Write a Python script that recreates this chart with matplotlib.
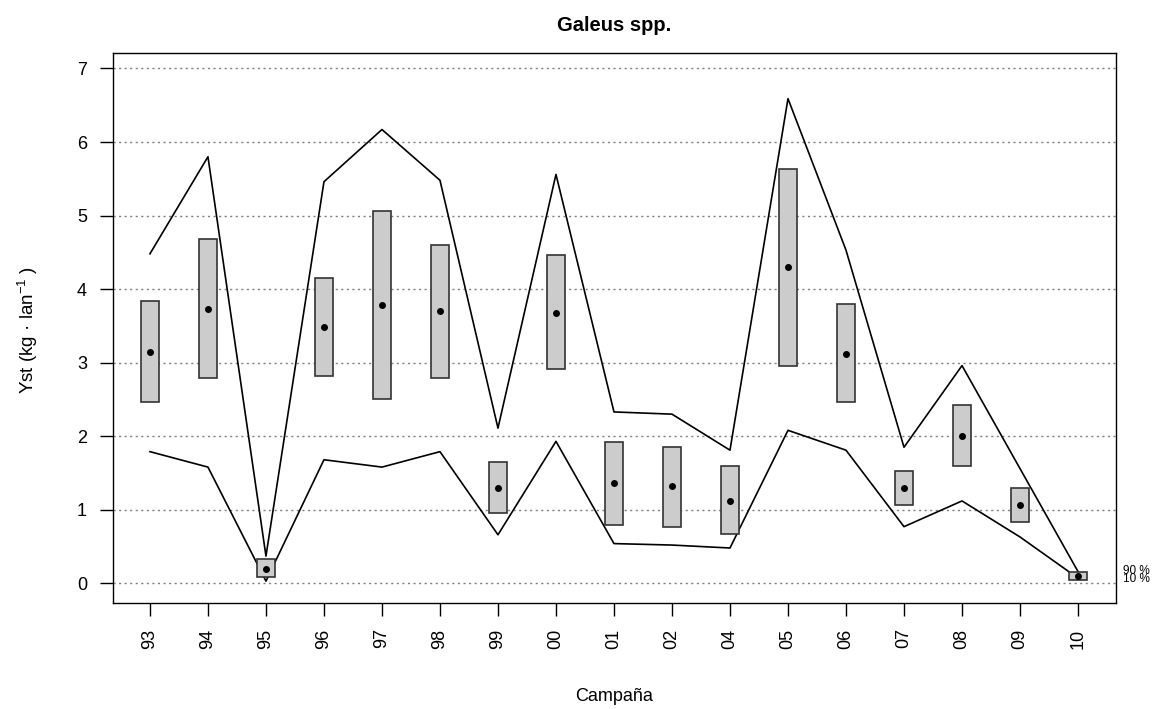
import numpy as np
import matplotlib
matplotlib.use("Agg")
import matplotlib.pyplot as plt

plt.rcParams['font.family'] = ['Liberation Sans', 'DejaVu Sans']
plt.rcParams['mathtext.fontset'] = 'custom'
plt.rcParams['mathtext.rm'] = 'Liberation Sans'
plt.rcParams['mathtext.it'] = 'Liberation Sans'

years = ['93', '94', '95', '96', '97', '98', '99', '00', '01', '02',
         '04', '05', '06', '07', '08', '09', '10']
mean = [3.15, 3.73, 0.20, 3.49, 3.78, 3.70, 1.30, 3.68, 1.36, 1.32,
        1.12, 4.30, 3.12, 1.30, 2.00, 1.06, 0.10]
box_low = [2.46, 2.79, 0.09, 2.82, 2.50, 2.79, 0.96, 2.92, 0.79, 0.76,
           0.67, 2.96, 2.47, 1.07, 1.59, 0.83, 0.05]
box_high = [3.84, 4.68, 0.33, 4.15, 5.06, 4.60, 1.65, 4.46, 1.92, 1.86,
            1.59, 5.64, 3.80, 1.53, 2.42, 1.30, 0.15]
p90 = [4.48, 5.80, 0.37, 5.46, 6.17, 5.48, 2.11, 5.56, 2.33, 2.30,
       1.81, 6.59, 4.53, 1.85, 2.96, 1.56, 0.16]
p10 = [1.79, 1.58, 0.03, 1.68, 1.58, 1.79, 0.66, 1.93, 0.54, 0.52,
       0.48, 2.08, 1.81, 0.77, 1.12, 0.63, 0.07]

x = np.arange(1, len(years) + 1)
low = np.array(box_low)
high = np.array(box_high)

fig = plt.figure(figsize=(11.59, 7.09), dpi=100)
ax = fig.add_axes([0.0972, 0.1499, 0.9629 - 0.0972, 0.9252 - 0.1499])

for yv in range(0, 8):
    ax.axhline(yv, color='#7f7f7f', lw=1, ls=(0, (1.5, 2.5)), zorder=0)

# percentile lines, then boxes on top
ax.plot(x, p90, color='black', lw=1.2, zorder=2)
ax.plot(x, p10, color='black', lw=1.2, zorder=2)
ax.bar(x, high - low, bottom=low, width=0.31, color='#cccccc',
       edgecolor='#333333', linewidth=1.2, zorder=3)
ax.plot(x, mean, 'o', color='black', ms=4, zorder=4)

ax.set_xlim(0.357, 17.655)
ax.set_ylim(-0.264, 7.21)
ax.set_xticks(x)
ax.set_xticklabels(years, rotation=90)
ax.set_yticks(range(0, 8))
ax.tick_params(axis='both', labelsize=13, length=9.5, width=1, pad=9)
for s in ax.spines.values():
    s.set_linewidth(1)

ax.text(17.78, p90[-1] + 0.01, '90 %', fontsize=8.5, ha='left', va='center', clip_on=False)
ax.text(17.78, p10[-1] - 0.01, '10 %', fontsize=8.5, ha='left', va='center', clip_on=False)

ax.set_title('Galeus spp.', fontsize=14.5, fontweight='bold', pad=16)
fig.text(0.5298, 0.0113, 'Campaña', fontsize=13, ha='center', va='baseline')
fig.text(0.0245, 0.535, 'Yst (kg \u00b7 lan$^{-1}$ )', fontsize=13.5,
         ha='center', va='center', rotation=90)

fig.savefig('out.png', dpi=100)
